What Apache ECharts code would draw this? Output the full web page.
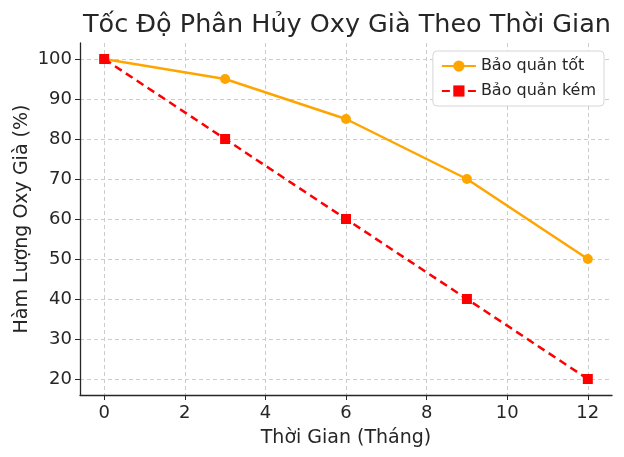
<!DOCTYPE html>
<html>
<head>
<meta charset="utf-8">
<script src="https://cdn.jsdelivr.net/npm/echarts@6/dist/echarts.min.js"></script>
<style>
  html, body { margin: 0; padding: 0; background: #fff; }
  #chart { width: 624px; height: 457px; }
</style>
</head>
<body>
<div id="chart"></div>
<script>
// dữ liệu
var months = [0, 3, 6, 9, 12];
var goodStorage = [100, 95, 85, 70, 50];
var poorStorage = [100, 80, 60, 40, 20];
var xTicks = [0, 2, 4, 6, 8, 10, 12];
var yTicks = [20, 30, 40, 50, 60, 70, 80, 90, 100];

var font = 'DejaVu Sans';

function pairs(xs, ys) {
  return xs.map(function (x, i) { return [x, ys[i]]; });
}

var chart = echarts.init(document.getElementById('chart'));

var option = {
  animation: false,
  textStyle: { fontFamily: font },
  title: {
    text: 'Tốc Độ Phân Hủy Oxy Già Theo Thời Gian',
    left: 342, top: 7, textAlign: 'center',
    textStyle: { fontFamily: font, fontSize: 25.5, fontWeight: 'normal', color: '#262626' }
  },
  legend: {
    right: 20, top: 51,
    orient: 'vertical',
    itemWidth: 34, itemHeight: 14, itemGap: 9,
    padding: [7, 8, 7, 8],
    borderColor: '#d6d6d6', borderWidth: 1, borderRadius: 4,
    backgroundColor: '#fff',
    textStyle: { fontFamily: font, fontSize: 16, color: '#262626' },
    data: ['Bảo quản tốt', 'Bảo quản kém']
  },
  grid: { left: 80, right: 12, top: 43, bottom: 62, outerBoundsMode: 'none' },
  xAxis: {
    type: 'value',
    min: -0.6, max: 12.6,
    name: 'Thời Gian (Tháng)',
    nameLocation: 'center', nameGap: 34,
    nameTextStyle: { fontFamily: font, fontSize: 19, color: '#262626' },
    axisLine: { onZero: false, lineStyle: { color: '#262626', width: 1.3 } },
    axisTick: { customValues: xTicks, length: 5, lineStyle: { color: '#262626' } },
    axisLabel: { customValues: xTicks, fontSize: 18, color: '#262626', margin: 9 },
    splitLine: { show: true, lineStyle: { color: '#cccccc', type: [4, 3] } }
  },
  yAxis: {
    type: 'value',
    min: 16, max: 104,
    name: 'Hàm Lượng Oxy Già (%)',
    nameLocation: 'center', nameGap: 48,
    nameMoveOverlap: false,
    nameTextStyle: { fontFamily: font, fontSize: 19, color: '#262626' },
    axisLine: { show: true, onZero: false, lineStyle: { color: '#262626', width: 1.3 } },
    axisTick: { show: true, customValues: yTicks, length: 5, lineStyle: { color: '#262626' } },
    axisLabel: { customValues: yTicks, fontSize: 18, color: '#262626', margin: 8 },
    splitLine: { show: true, lineStyle: { color: '#cccccc', type: [4, 3] } }
  },
  series: [
    {
      name: 'Bảo quản tốt',
      type: 'line',
      data: pairs(months, goodStorage),
      symbol: 'circle', symbolSize: 10,
      lineStyle: { color: '#ffa500', width: 2.5 },
      itemStyle: { color: '#ffa500' }
    },
    {
      name: 'Bảo quản kém',
      type: 'line',
      data: pairs(months, poorStorage),
      symbol: 'rect', symbolSize: 10,
      lineStyle: { color: '#ff0000', width: 2.5, type: [8, 5] },
      itemStyle: { color: '#ff0000' }
    }
  ]
};

chart.setOption(option);
</script>
</body>
</html>
